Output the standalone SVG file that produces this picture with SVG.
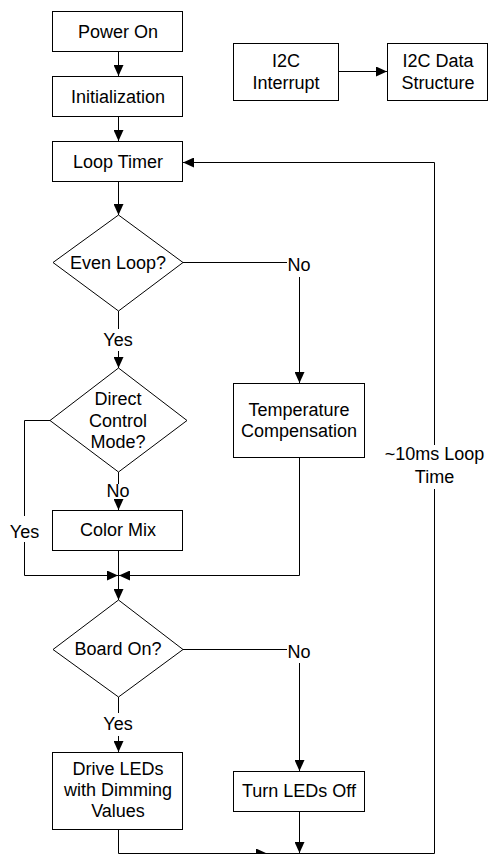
<svg xmlns="http://www.w3.org/2000/svg" width="494" height="854" viewBox="0 0 494 854">
<style>
.n{fill:#fff;stroke:#000;stroke-width:1}
.t{font-family:"Liberation Sans",Arial,sans-serif;font-size:18px;fill:#000;text-anchor:middle}
.c{fill:none;stroke:#000;stroke-width:1}
</style>
<defs>
<marker id="a" markerWidth="11" markerHeight="10" refX="11" refY="5" orient="auto" markerUnits="userSpaceOnUse" viewBox="0 0 11 10">
<path d="M0,0 L11,5 L0,10 Z" fill="#000"/>
</marker>
</defs>
<rect width="494" height="854" fill="#fff"/>
<g id="connectors">
<path class="c" d="M118.5,51 V76" marker-end="url(#a)"/>
<path class="c" d="M118.5,116 V141" marker-end="url(#a)"/>
<path class="c" d="M118.5,181 V215" marker-end="url(#a)"/>
<path class="c" d="M183,262.5 H287"/>
<path class="c" d="M299.5,277 V383" marker-end="url(#a)"/>
<path class="c" d="M118.5,311 V329"/>
<path class="c" d="M118.5,351 V368" marker-end="url(#a)"/>
<path class="c" d="M118.5,472 V484"/>
<path class="c" d="M118.5,501 V510" marker-end="url(#a)"/>
<path class="c" d="M50,420.5 H24.5 V516"/>
<path class="c" d="M24.5,542 V575.5 H118" marker-end="url(#a)"/>
<path class="c" d="M299.5,457 V575.5 H119" marker-end="url(#a)"/>
<path class="c" d="M118.5,550 V600" marker-end="url(#a)"/>
<path class="c" d="M183,649.5 H287"/>
<path class="c" d="M299.5,663 V771" marker-end="url(#a)"/>
<path class="c" d="M118.5,697 V713"/>
<path class="c" d="M118.5,736 V752" marker-end="url(#a)"/>
<path class="c" d="M118.5,829 V853.5 H267" marker-end="url(#a)"/>
<path class="c" d="M267,853.5 H434.5 V489"/>
<path class="c" d="M434.5,445 V162.5 H183" marker-end="url(#a)"/>
<path class="c" d="M299.5,811 V853" marker-end="url(#a)"/>
<path class="c" d="M339,71.5 H387" marker-end="url(#a)"/>
</g>
<g id="power_on"><rect class="n" x="52.5" y="11.5" width="130" height="40"/><text class="t" x="118" y="38">Power On</text></g>
<g id="initialization"><rect class="n" x="52.5" y="76.5" width="130" height="40"/><text class="t" x="118" y="103">Initialization</text></g>
<g id="loop_timer"><rect class="n" x="52.5" y="141.5" width="130" height="40"/><text class="t" x="118" y="168">Loop Timer</text></g>
<g id="i2c_interrupt"><rect class="n" x="233.5" y="43.5" width="105" height="57"/><text class="t" x="286" y="67">I2C</text><text class="t" x="286" y="89">Interrupt</text></g>
<g id="i2c_data"><rect class="n" x="387.5" y="43.5" width="100" height="57"/><text class="t" x="438" y="67">I2C Data</text><text class="t" x="438" y="89">Structure</text></g>
<g id="even_loop"><path class="n" d="M118.5,215 L183,262.5 L118.5,311 L53,262.5 Z"/><text class="t" x="118" y="269">Even Loop?</text></g>
<g id="label_no1"><text class="t" x="299" y="271">No</text></g>
<g id="label_yes1"><text class="t" x="118" y="346">Yes</text></g>
<g id="direct_control"><path class="n" d="M118.5,368 L187,420.5 L118.5,472 L50,420.5 Z"/><text class="t" x="118" y="405">Direct</text><text class="t" x="118" y="427">Control</text><text class="t" x="118" y="448">Mode?</text></g>
<g id="label_no2"><text class="t" x="118" y="497">No</text></g>
<g id="label_yes2"><text class="t" x="24.5" y="538">Yes</text></g>
<g id="temp_comp"><rect class="n" x="233.5" y="383.5" width="131" height="74"/><text class="t" x="299" y="416">Temperature</text><text class="t" x="299" y="437">Compensation</text></g>
<g id="color_mix"><rect class="n" x="52.5" y="510.5" width="130" height="40"/><text class="t" x="118" y="536">Color Mix</text></g>
<g id="board_on"><path class="n" d="M118.5,600 L183,649.5 L118.5,697 L53,649.5 Z"/><text class="t" x="118" y="655">Board On?</text></g>
<g id="label_no3"><text class="t" x="299" y="658">No</text></g>
<g id="label_yes3"><text class="t" x="118" y="730">Yes</text></g>
<g id="drive_leds"><rect class="n" x="52.5" y="752.5" width="130" height="77"/><text class="t" x="118" y="775">Drive LEDs</text><text class="t" x="118" y="796">with Dimming</text><text class="t" x="118" y="817">Values</text></g>
<g id="turn_off"><rect class="n" x="233.5" y="771.5" width="131" height="40"/><text class="t" x="299" y="797">Turn LEDs Off</text></g>
<g id="label_loop"><text class="t" x="434.5" y="460">~10ms Loop</text><text class="t" x="434.5" y="483">Time</text></g>
</svg>
